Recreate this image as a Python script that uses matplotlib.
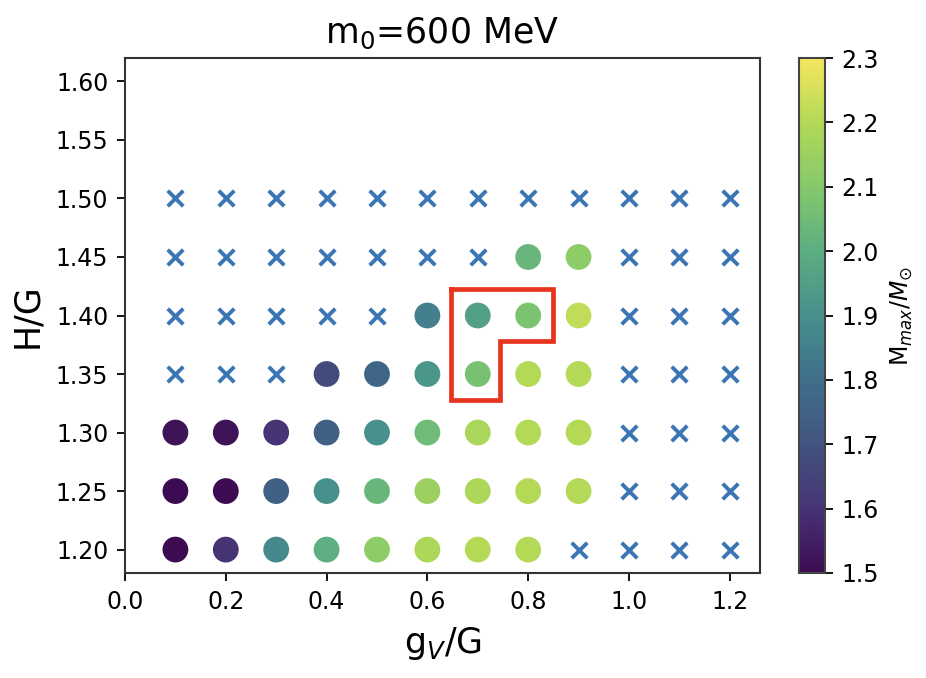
import matplotlib
matplotlib.use("Agg")
import matplotlib.pyplot as plt
from matplotlib.colors import LinearSegmentedColormap

gv = [0.1, 0.2, 0.3, 0.4, 0.5, 0.6, 0.7, 0.8, 0.9, 1.0, 1.1, 1.2]
hg = [1.20, 1.25, 1.30, 1.35, 1.40, 1.45, 1.50]

# Mmax for each H/G row, None where there is no solution (drawn as a cross)
row_120 = [1.50, 1.60, 1.88, 2.00, 2.12, 2.19, 2.20, 2.20, None, None, None, None]
row_125 = [1.50, 1.50, 1.75, 1.90, 2.03, 2.15, 2.19, 2.20, 2.20, None, None, None]
row_130 = [1.52, 1.52, 1.60, 1.75, 1.90, 2.05, 2.18, 2.20, 2.20, None, None, None]
row_135 = [None, None, None, 1.67, 1.77, 1.92, 2.07, 2.20, 2.20, None, None, None]
row_140 = [None, None, None, None, None, 1.85, 1.95, 2.08, 2.22, None, None, None]
row_145 = [None, None, None, None, None, None, None, 2.03, 2.12, None, None, None]
row_150 = [None] * 12
rows = [row_120, row_125, row_130, row_135, row_140, row_145, row_150]

# outline around the allowed region
box_x = [0.647, 0.849, 0.849, 0.744, 0.744, 0.647, 0.647]
box_y = [1.423, 1.423, 1.378, 1.378, 1.328, 1.328, 1.423]

xticks = [0.0, 0.2, 0.4, 0.6, 0.8, 1.0, 1.2]
yticks = [1.20, 1.25, 1.30, 1.35, 1.40, 1.45, 1.50, 1.55, 1.60]
cticks = [1.5, 1.6, 1.7, 1.8, 1.9, 2.0, 2.1, 2.2, 2.3]

# viridis looks washed out in the source, so use colours
muted = ["#3d0b52", "#463474", "#42547f", "#3f6e8b", "#47908c",
         "#5cae82", "#84c86c", "#b2d957", "#f5e65e"]
cmap = LinearSegmentedColormap.from_list("muted_viridis", muted, N=256)

fig = plt.figure(figsize=(9.26, 6.78), dpi=100)
w, h = 926.0, 678.0
ax = fig.add_axes([125 / w, 1 - 573 / h, 635 / w, 515 / h])
cax = fig.add_axes([799 / w, 1 - 573 / h, 26 / w, 515 / h])

dot_x, dot_y, dot_c, cross_x, cross_y = [], [], [], [], []
for y, row in zip(hg, rows):
    for x, val in zip(gv, row):
        if val is None:
            cross_x.append(x)
            cross_y.append(y)
        else:
            dot_x.append(x)
            dot_y.append(y)
            dot_c.append(val)

ax.scatter(cross_x, cross_y, marker="x", s=125, linewidths=2.8, color="#3a75b4")
sc = ax.scatter(dot_x, dot_y, c=dot_c, s=345, cmap=cmap, vmin=1.5, vmax=2.3, linewidths=0)
ax.plot(box_x, box_y, color="#e8331f", lw=3.4, solid_joinstyle="miter")

ax.set_xlim(0.0, 1.26)
ax.set_ylim(1.18, 1.62)
ax.set_xticks(xticks)
ax.set_yticks(yticks)
ax.set_yticklabels(["%.2f" % t for t in yticks])
ax.tick_params(labelsize=17, width=1.3, length=6, pad=6)
ax.set_xlabel(r"g$_V$/G", fontsize=25, labelpad=8)
ax.set_ylabel("H/G", fontsize=25, labelpad=8)
ax.set_title(r"m$_0$=600 MeV", fontsize=25, pad=11)
for s in ax.spines.values():
    s.set_linewidth(1.5)
    s.set_color("#333333")

cb = fig.colorbar(sc, cax=cax)
cb.set_ticks(cticks)
cb.ax.tick_params(labelsize=17, width=1.3, length=6, pad=6)
cb.set_label(r"M$_{max}/M_{\odot}$", fontsize=17, labelpad=7)
cb.outline.set_linewidth(1.5)
cb.outline.set_edgecolor("#444444")

fig.savefig("out.png", dpi=100)
